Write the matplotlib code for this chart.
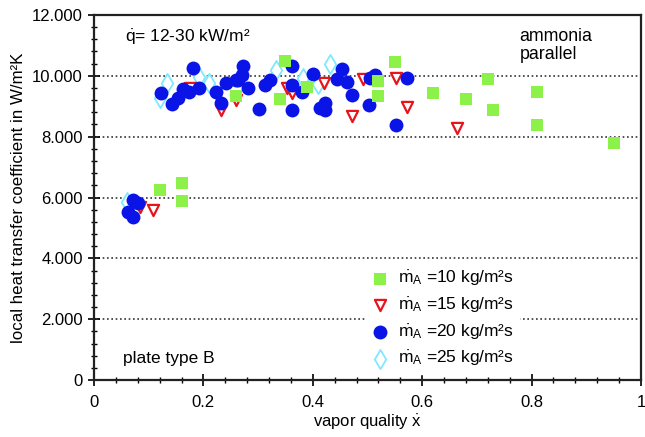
import matplotlib
matplotlib.use("Agg")
import matplotlib.pyplot as plt
from matplotlib.ticker import MultipleLocator, FuncFormatter

plt.rcParams['font.family'] = ['Liberation Sans', 'DejaVu Sans']
plt.rcParams['mathtext.fontset'] = 'custom'
plt.rcParams['mathtext.rm'] = 'Liberation Sans'
plt.rcParams['mathtext.it'] = 'Liberation Sans:italic'

# m_A = 10 kg/m2s (green squares)
x10 = [0.12, 0.16, 0.16, 0.26, 0.34, 0.35, 0.39, 0.52, 0.52, 0.55, 0.62, 0.68, 0.72, 0.73, 0.81, 0.81, 0.95]
h10 = [6250, 6480, 5900, 9350, 9230, 10500, 9620, 9830, 9340, 10460, 9440, 9230, 9900, 8880, 9470, 8370, 7780]

# m_A = 15 kg/m2s (red triangles)
x15 = [0.084, 0.108, 0.175, 0.232, 0.26, 0.352, 0.362, 0.42, 0.472, 0.492, 0.553, 0.572, 0.663]
h15 = [5700, 5600, 9600, 8880, 9200, 9600, 9440, 9770, 8690, 9900, 9930, 8980, 8290]

# m_A = 20 kg/m2s (blue circles)
x20 = [0.062, 0.071, 0.071, 0.08, 0.122, 0.143, 0.153, 0.163, 0.173, 0.181, 0.192,
       0.223, 0.232, 0.241, 0.26, 0.263, 0.27, 0.272, 0.282, 0.302, 0.312, 0.322,
       0.362, 0.362, 0.362, 0.38, 0.40, 0.413, 0.422, 0.422, 0.444, 0.453, 0.462,
       0.472, 0.503, 0.505, 0.514, 0.553, 0.572]
h20 = [5520, 5920, 5360, 5820, 9440, 9070, 9270, 9570, 9470, 10260, 9600,
       9470, 9100, 9770, 9860, 9860, 10030, 10320, 9600, 8910, 9700, 9860,
       10320, 9700, 8880, 9470, 10060, 8940, 9100, 8880, 9900, 10230, 9800,
       9370, 9040, 9930, 10030, 8380, 9930]

# m_A = 25 kg/m2s (cyan diamonds)
x25 = [0.06, 0.12, 0.133, 0.192, 0.21, 0.333, 0.382, 0.41, 0.431]
h25 = [5850, 9270, 9770, 9960, 9770, 10200, 9930, 9730, 10400]

fig = plt.figure(figsize=(6.45, 4.37), dpi=100)
ax = fig.add_axes([0.1457, 0.1304, 0.8481, 0.8353])

for yg in [2000, 4000, 6000, 8000, 10000]:
    ax.axhline(yg, color='#333333', linestyle=(0, (1.0, 1.6)), linewidth=1.2, zorder=0)

ax.scatter(x25, h25, marker='d', s=95, facecolors='white', edgecolors='#7fe8ff', linewidths=1.3,
           label=r"$\dot{\mathrm{m}}_\mathrm{A}$ =25 kg/m²s", zorder=2)
ax.scatter(x15, h15, marker='v', s=65, facecolors='white', edgecolors='#e8141c', linewidths=1.6,
           label=r"$\dot{\mathrm{m}}_\mathrm{A}$ =15 kg/m²s", zorder=3)
ax.scatter(x20, h20, marker='o', s=100, color='#0a14e6', linewidths=0,
           label=r"$\dot{\mathrm{m}}_\mathrm{A}$ =20 kg/m²s", zorder=4)
ax.scatter(x10, h10, marker='s', s=75, color='#8cf24a', linewidths=0,
           label=r"$\dot{\mathrm{m}}_\mathrm{A}$ =10 kg/m²s", zorder=5)

ax.set_xlim(0, 1)
ax.set_ylim(0, 12000)
ax.xaxis.set_major_locator(MultipleLocator(0.2))
ax.xaxis.set_minor_locator(MultipleLocator(0.04))
ax.yaxis.set_major_locator(MultipleLocator(2000))
ax.yaxis.set_minor_locator(MultipleLocator(400))
ax.xaxis.set_major_formatter(FuncFormatter(lambda v, p: '%g' % round(v, 2)))
ax.yaxis.set_major_formatter(FuncFormatter(lambda v, p: '0' if v == 0 else '{:.3f}'.format(v / 1000)))
ax.tick_params(which='major', direction='inout', length=9, width=1.2, labelsize=12, colors='black')
ax.tick_params(axis='x', which='major', pad=6)
ax.tick_params(which='minor', direction='inout', length=5, width=1)
for s in ax.spines.values():
    s.set_linewidth(1.6)
    s.set_color('#222222')

ax.set_xlabel(r"vapor quality $\dot{\mathrm{x}}$", fontsize=12, labelpad=2)
ax.set_ylabel("local heat transfer coefficient in W/m²K", fontsize=12.2, labelpad=4)

ax.text(0.056, 11250, r"$\dot{\mathrm{q}}$= 12-30 kW/m²", fontsize=12.5, va='center')
ax.text(0.778, 11000, "ammonia\nparallel", fontsize=12.8, va='center', linespacing=1.05)
ax.text(0.053, 720, "plate type B", fontsize=12.5, va='center')

handles, labels = ax.get_legend_handles_labels()
order = [3, 1, 2, 0]
leg = ax.legend([handles[i] for i in order], [labels[i] for i in order],
                loc='center left', bbox_to_anchor=(0.497, 0.168), borderaxespad=0,
                frameon=True, fontsize=12.5, handletextpad=0.53, labelspacing=0.43,
                borderpad=0.3, handlelength=1.0)
leg.get_frame().set_edgecolor('white')
leg.get_frame().set_facecolor('white')
leg.get_frame().set_alpha(1)

fig.savefig("out.png", dpi=100)
